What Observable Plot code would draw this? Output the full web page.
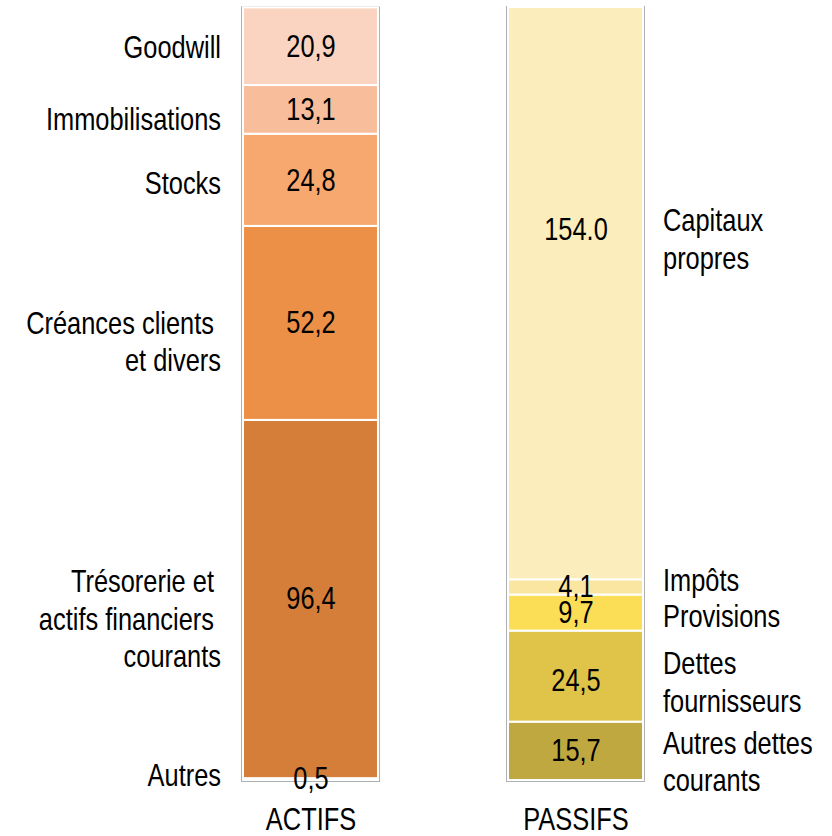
<!DOCTYPE html>
<html>
<head>
<meta charset="utf-8">
<script src="https://cdn.jsdelivr.net/npm/d3@7"></script>
<script src="https://cdn.jsdelivr.net/npm/@observablehq/plot@0.6"></script>
<style>
  html, body { margin: 0; padding: 0; background: #fff; }
  g[aria-label="shadow"] { filter: blur(2.5px); }
</style>
</head>
<body>
<div id="chart"></div>
<script>
// ---- data (bottom to top) ----
const sides = ["ACTIFS", "PASSIFS"];

const actifsCategories = ["Autres", "Trésorerie et\u00a0\nactifs financiers\u00a0\ncourants", "Créances clients\u00a0\net divers", "Stocks", "Immobilisations", "Goodwill"];
const actifsValues = [0.5, 96.4, 52.2, 24.8, 13.1, 20.9];
const actifsValueLabels = ["0,5", "96,4", "52,2", "24,8", "13,1", "20,9"];

const passifsCategories = ["Autres dettes\ncourants", "Dettes\nfournisseurs", "Provisions", "Impôts", "Capitaux\npropres"];
const passifsValues = [15.7, 24.5, 9.7, 4.1, 154.0];
const passifsValueLabels = ["15,7", "24,5", "9,7", "4,1", "154.0"];

// ---- styles ----
const actifsColors = ["#d57e3a", "#d57e3a", "#ec9048", "#f7a86e", "#f8be9b", "#fad4c0"];
const passifsColors = ["#c0a840", "#e0c44a", "#fbde55", "#fae6a0", "#fcedbc"];
// vertical pixel offsets of the category labels relative to the segment middle
const actifsLabelDy = [-6, 18, 17, 2, 8, -1];
const passifsLabelDy = [9, 4, 2, -9, -56];
// vertical pixel offsets of the value labels relative to the segment middle
const actifsValueDy = [0, 0, 0, 1, 0, 0];
const passifsValueDy = [0, 4, 0, 0, -64];

const rows = [
  ...actifsValues.map((v, i) => ({side: "ACTIFS", id: "A" + i, cat: actifsCategories[i], value: v, label: actifsValueLabels[i], color: actifsColors[i], ldy: actifsLabelDy[i], vdy: actifsValueDy[i]})),
  ...passifsValues.map((v, i) => ({side: "PASSIFS", id: "P" + i, cat: passifsCategories[i], value: v, label: passifsValueLabels[i], color: passifsColors[i], ldy: passifsLabelDy[i], vdy: passifsValueDy[i]}))
];
const totals = sides.map(s => ({side: s, value: d3.sum(rows.filter(r => r.side === s), r => r.value)}));

const FONT = "'Liberation Sans', Arial, sans-serif";
const FS = 31;

// one text mark per label (stacking sees all rows, only one row shows text)
const catMarks = rows.map(r => Plot.text(rows, Plot.stackY({
  x: "side", y: "value", z: "id",
  text: (d) => d.id === r.id ? d.cat : "",
  textAnchor: r.side === "ACTIFS" ? "end" : "start",
  dx: r.side === "ACTIFS" ? -90 : 87,
  dy: r.ldy,
  lineAnchor: "middle",
  lineHeight: 1.22,
  fill: "#000",
  fontSize: FS
})));
const valueMarks = rows.map(r => Plot.text(rows, Plot.stackY({
  x: "side", y: "value", z: "id",
  text: (d) => d.id === r.id ? d.label : "",
  dy: r.vdy,
  lineAnchor: "middle",
  fill: "#000",
  fontSize: FS
})));

const chart = Plot.plot({
  width: 832,
  height: 836,
  style: {fontFamily: FONT, fontSize: FS + "px", background: "#fff", color: "#000"},
  x: {domain: sides, range: [113, 774], padding: 0.49, axis: null},
  y: {domain: [0, 208], range: [780, 7], axis: null},
  color: {type: "identity"},
  marks: [
    Plot.barY(totals, {x: "side", y: "value", fill: "#b0b0b0", insetLeft: -2, insetRight: -2, insetTop: -1, insetBottom: -2, ariaLabel: "shadow"}),
    Plot.barY(rows, Plot.stackY({x: "side", y: "value", z: "id", fill: "color", stroke: "#fff", strokeWidth: 2})),
    ...valueMarks,
    ...catMarks,
    Plot.text(sides, {x: d => d, y: 0, text: d => d, dy: 40, lineAnchor: "middle", fill: "#000", fontSize: FS})
  ]
});
document.getElementById("chart").appendChild(chart);

// condense all text horizontally (narrow typeface look), around each text's anchor
chart.querySelectorAll("text").forEach(t => {
  const ax = +(t.getAttribute("x") || 0);
  const tr = t.getAttribute("transform") || "";
  t.setAttribute("transform", `${tr} translate(${ax},0) scale(0.82,1) translate(${-ax},0)`.trim());
});
</script>
</body>
</html>
